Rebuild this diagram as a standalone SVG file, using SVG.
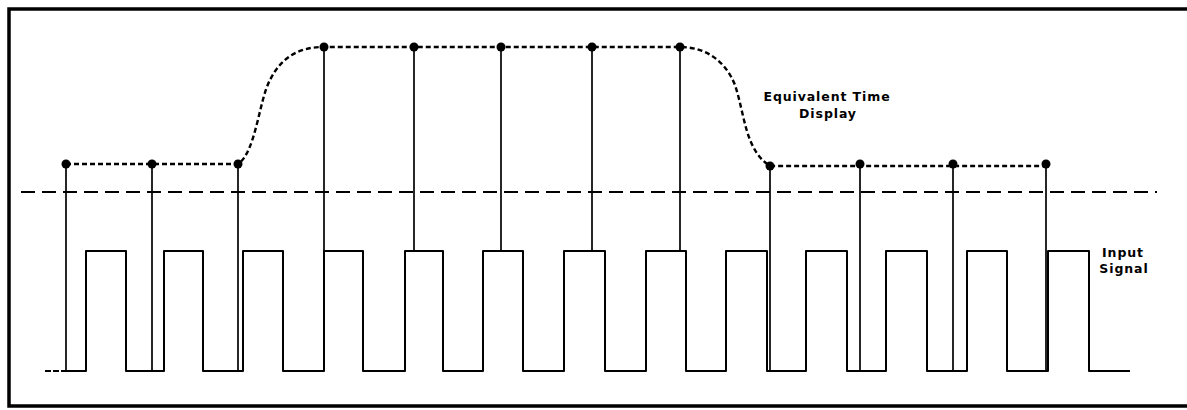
<svg xmlns="http://www.w3.org/2000/svg" width="1187" height="410" viewBox="0 0 1187 410">
<style>
.frame{fill:none;stroke:#000;stroke-width:3.5}
.thr{fill:none;stroke:#000;stroke-width:2;stroke-dasharray:14 7}
.env{fill:none;stroke:#000;stroke-width:2.4;stroke-dasharray:5 3}
.sig{fill:none;stroke:#000;stroke-width:2;stroke-linejoin:round}
.smp{fill:none;stroke:#000;stroke-width:1.7}
.dot{fill:#000}
.lbl{font-family:"DejaVu Sans","Liberation Sans",sans-serif;font-weight:bold;font-size:12.5px;letter-spacing:0.9px;fill:#000;text-anchor:middle}
</style>
<rect width="1187" height="410" fill="#fff"/>
<g id="frame">
<path class="frame" d="M1187,9 H9 V406 H1187"/>
</g>
<g id="threshold">
<line class="thr" x1="21" y1="192" x2="1157" y2="192"/>
</g>
<g id="input-signal">
<line class="sig" x1="45" y1="371" x2="61" y2="371" stroke-dasharray="6 2"/>
<path class="sig" d="M61,371 H86 V251 H126 V371 H164 V251 H203 V371 H243 V251 H283 V371 H324 V251 H363 V371 H405 V251 H443 V371 H483 V251 H523 V371 H564 V251 H605 V371 H646 V251 H686 V371 H726 V251 H767 V371 H806 V251 H847 V371 H886 V251 H927 V371 H967 V251 H1007 V371 H1048 V251 H1089 V371 H1130"/>
</g>
<g id="connectors">
<line class="smp" x1="66" y1="164" x2="66" y2="371"/>
<line class="smp" x1="152" y1="164" x2="152" y2="371"/>
<line class="smp" x1="238" y1="164" x2="238" y2="371"/>
<line class="smp" x1="324" y1="47" x2="324" y2="251"/>
<line class="smp" x1="414" y1="47" x2="414" y2="251"/>
<line class="smp" x1="501" y1="47" x2="501" y2="251"/>
<line class="smp" x1="592" y1="47" x2="592" y2="251"/>
<line class="smp" x1="680" y1="47" x2="680" y2="251"/>
<line class="smp" x1="770" y1="166" x2="770" y2="371"/>
<line class="smp" x1="860" y1="164" x2="860" y2="371"/>
<line class="smp" x1="953" y1="164" x2="953" y2="371"/>
<line class="smp" x1="1046" y1="164" x2="1046" y2="371"/>
</g>
<g id="equivalent-time-display">
<path class="env" d="M66,164 H238 C256,152 259,100 270,80 C282,56 300,47 324,47 H680 C705,47 725,60 735,85 C745,115 745,150 770,166 H1046"/>
<circle class="dot" cx="66" cy="164" r="4.5"/>
<circle class="dot" cx="152" cy="164" r="4.5"/>
<circle class="dot" cx="238" cy="164" r="4.5"/>
<circle class="dot" cx="324" cy="47" r="4.5"/>
<circle class="dot" cx="414" cy="47" r="4.5"/>
<circle class="dot" cx="501" cy="47" r="4.5"/>
<circle class="dot" cx="592" cy="47" r="4.5"/>
<circle class="dot" cx="680" cy="47" r="4.5"/>
<circle class="dot" cx="770" cy="166" r="4.5"/>
<circle class="dot" cx="860" cy="164" r="4.5"/>
<circle class="dot" cx="953" cy="164" r="4.5"/>
<circle class="dot" cx="1046" cy="164" r="4.5"/>
</g>
<g id="label-display">
<text class="lbl" x="827" y="101">Equivalent Time</text>
<text class="lbl" x="828" y="118">Display</text>
</g>
<g id="label-input">
<text class="lbl" x="1123" y="257">Input</text>
<text class="lbl" x="1124" y="273">Signal</text>
</g>
</svg>
